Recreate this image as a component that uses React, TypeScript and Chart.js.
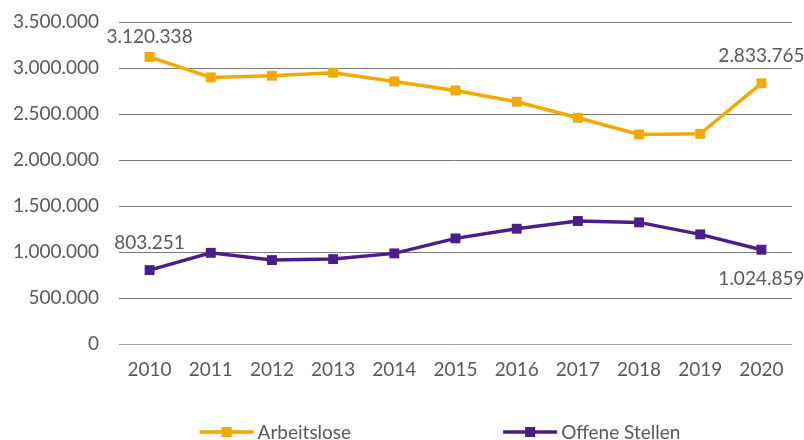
import React, { useEffect, useRef } from 'react';
import { Chart, registerables } from 'chart.js';

Chart.register(...registerables);

const years = ['2010', '2011', '2012', '2013', '2014', '2015', '2016', '2017', '2018', '2019', '2020'];
const arbeitslose = [3120338, 2898000, 2916000, 2949000, 2854000, 2756000, 2633000, 2459000, 2277000, 2284000, 2833765];
const offeneStellen = [803251, 991000, 912000, 923000, 985000, 1148000, 1253000, 1337000, 1322000, 1192000, 1024859];
const seriesNames = ['Arbeitslose', 'Offene Stellen'];
const seriesColors = ['#F2A900', '#4B1D8A'];
const yMax = 3500000;
const yStep = 500000;
// which points carry a value label, and how far above (-) / below (+) it sits
const labelledPoints = [
  { series: 0, index: 0, dy: -20 },
  { series: 0, index: 10, dy: -27 },
  { series: 1, index: 0, dy: -27 },
  { series: 1, index: 10, dy: 29 },
];

const FONT = 'Lato, "Open Sans", sans-serif';
const TEXT = '#595959';
const FS = 19;

const fmt = (v: number) => String(Math.round(v)).replace(/\B(?=(\d{3})+(?!\d))/g, '.');

const dataLabelPlugin = {
  id: 'dataLabels',
  afterDatasetsDraw(chart: any) {
    const ctx = chart.ctx;
    ctx.save();
    ctx.font = `${FS}px ${FONT}`;
    ctx.fillStyle = TEXT;
    ctx.textAlign = 'center';
    ctx.textBaseline = 'middle';
    labelledPoints.forEach((lp) => {
      const meta = chart.getDatasetMeta(lp.series);
      const el = meta.data[lp.index];
      const v = chart.data.datasets[lp.series].data[lp.index];
      ctx.fillText(fmt(v), el.x, el.y + lp.dy);
    });
    ctx.restore();
  },
};

const legendPlugin = {
  id: 'bottomLegend',
  afterDraw(chart: any) {
    const ctx = chart.ctx;
    ctx.save();
    ctx.font = `${FS}px ${FONT}`;
    ctx.textBaseline = 'middle';
    ctx.textAlign = 'left';
    const lineW = 54;
    const gapText = 4;
    const gapItems = 152;
    const widths = chart.data.datasets.map((d: any) => lineW + gapText + ctx.measureText(d.label).width);
    const total = widths.reduce((a: number, b: number) => a + b, 0) + gapItems * (widths.length - 1);
    let x = 440 - total / 2;
    const y = chart.height - 8;
    chart.data.datasets.forEach((d: any, i: number) => {
      ctx.strokeStyle = d.borderColor;
      ctx.lineWidth = 3.5;
      ctx.beginPath();
      ctx.moveTo(x, y);
      ctx.lineTo(x + lineW, y);
      ctx.stroke();
      ctx.fillStyle = d.borderColor;
      ctx.fillRect(x + lineW / 2 - 5, y - 5, 10, 10);
      ctx.fillStyle = TEXT;
      ctx.fillText(d.label, x + lineW + gapText, y + 1);
      x += widths[i] + gapItems;
    });
    ctx.restore();
  },
};

export default function App() {
  const ref = useRef<HTMLCanvasElement | null>(null);
  useEffect(() => {
    document.body.style.margin = '0';
    const c = ref.current!;
    const chart = new Chart(c, {
      type: 'line',
      data: {
        labels: years,
        datasets: [arbeitslose, offeneStellen].map((data, i) => ({
          label: seriesNames[i],
          data,
          borderColor: seriesColors[i],
          backgroundColor: seriesColors[i],
          borderWidth: 3.5,
          pointStyle: 'rect',
          pointRadius: 7,
          pointHoverRadius: 7,
          pointBorderWidth: 0,
          tension: 0,
        })),
      },
      options: {
        responsive: false,
        animation: false,
        layout: { padding: { top: 22, right: 12, left: 0, bottom: 0 } },
        plugins: { legend: { display: false }, tooltip: { enabled: false } },
        scales: {
          x: {
            offset: true,
            grid: { display: false, drawTicks: false },
            border: { display: false },
            ticks: { color: TEXT, font: { family: FONT, size: FS }, padding: 14 },
            afterFit: (s: any) => { s.height = 96; },
          },
          y: {
            min: 0,
            max: yMax,
            grid: {
              color: (c: any) => (c.tick && c.tick.value === 0 ? '#a6a6a6' : '#7a7a7a'),
              lineWidth: 1,
              drawTicks: false,
            },
            border: { display: false },
            ticks: {
              stepSize: yStep,
              color: TEXT,
              font: { family: FONT, size: FS },
              padding: 20,
              callback: (v: any) => fmt(Number(v)),
            },
            afterFit: (s: any) => { s.width = 119; s.paddingTop = 0; s.paddingBottom = 0; },
          },
        },
      },
      plugins: [dataLabelPlugin, legendPlugin],
    });
    return () => chart.destroy();
  }, []);
  return <canvas ref={ref} width={804} height={440} style={{ display: 'block' }} />;
}
